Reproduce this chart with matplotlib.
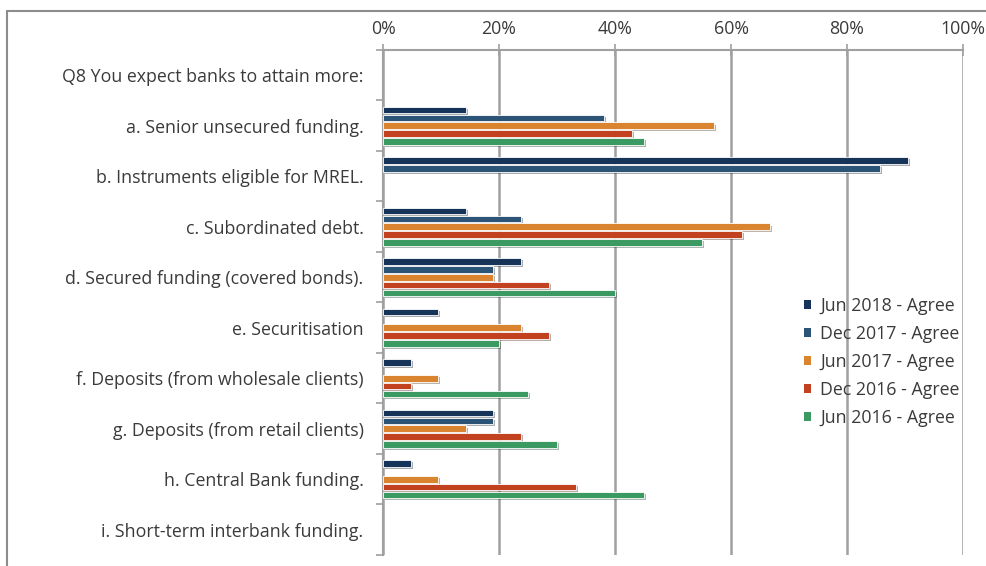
import numpy as np
import matplotlib
matplotlib.use("Agg")
import matplotlib.pyplot as plt
import matplotlib.patheffects as pe
from matplotlib.patches import Rectangle
from matplotlib.ticker import FixedLocator, PercentFormatter

# ==========================================
# DATA
# ==========================================

categories = [
    "Q8 You expect banks to attain more:",
    "a. Senior unsecured funding.",
    "b. Instruments eligible for MREL.",
    "c. Subordinated debt.",
    "d. Secured funding (covered bonds).",
    "e. Securitisation",
    "f. Deposits (from wholesale clients)",
    "g. Deposits (from retail clients)",
    "h. Central Bank funding.",
    "i. Short-term interbank funding.",
]

series_names = [
    "Jun 2018 - Agree",
    "Dec 2017 - Agree",
    "Jun 2017 - Agree",
    "Dec 2016 - Agree",
    "Jun 2016 - Agree",
]

# values in %, header row has no bars
jun_2018 = [0, 14.3, 90.5, 14.3, 23.8, 9.5, 4.8, 19.0, 4.8, 0]
dec_2017 = [0, 38.1, 85.7, 23.8, 19.0, 0, 0, 19.0, 0, 0]
jun_2017 = [0, 57.1, 0, 66.7, 19.0, 23.8, 9.5, 14.3, 9.5, 0]
dec_2016 = [0, 42.9, 0, 61.9, 28.6, 28.6, 4.8, 23.8, 33.3, 0]
jun_2016 = [0, 45.0, 0, 55.0, 40.0, 20.0, 25.0, 30.0, 45.0, 0]

series_values = [jun_2018, dec_2017, jun_2017, dec_2016, jun_2016]
colors = ["#16345A", "#2B5477", "#DA8430", "#C2421F", "#3A9A62"]

# ==========================================
# FIGURE
# ==========================================

plt.rcParams["font.family"] = ["Open Sans", "DejaVu Sans"]
text_color = "#3A3A3A"
grid_color = "#A0A0A0"
fsize = 12.8

fig = plt.figure(figsize=(9.86, 5.66), dpi=100)
ax = fig.add_axes([383 / 986, 1 - 555 / 566, 580 / 986, 505 / 566])

y = np.arange(len(categories))
step = 0.157
bar_h = 0.13
shadow = [pe.SimplePatchShadow(offset=(1.5, -1.5), alpha=0.35), pe.Normal()]

for i, (name, vals, col) in enumerate(zip(series_names, series_values, colors)):
    vals = np.array(vals)
    keep = vals > 0
    offs = (i - 2) * step
    ax.barh(y[keep] + offs, vals[keep], height=bar_h, color=col,
            edgecolor="white", linewidth=0.6, label=name,
            path_effects=shadow, zorder=3)

ax.set_xlim(0, 100)
ax.set_ylim(len(categories) - 0.5, -0.5)

# x axis on top
ax.xaxis.tick_top()
ax.set_xticks([0, 20, 40, 60, 80, 100])
ax.xaxis.set_major_formatter(PercentFormatter(decimals=0))
ax.tick_params(axis="x", direction="inout", length=9, width=1.2,
               color=grid_color, labelsize=fsize, labelcolor=text_color, pad=4)
ax.grid(axis="x", color=grid_color, linewidth=1.8, zorder=0)

# y axis: ticks between categories, labels at centres
ax.yaxis.set_major_locator(FixedLocator(np.arange(-0.5, len(categories), 1)))
ax.yaxis.set_minor_locator(FixedLocator(y))
ax.set_yticklabels([], minor=False)
ax.set_yticklabels(categories, minor=True)
ax.tick_params(axis="y", which="major", direction="out", length=5, width=1.2,
               color=grid_color)
ax.tick_params(axis="y", which="minor", length=0, labelsize=fsize,
               labelcolor=text_color, pad=14)

for side in ["right", "bottom"]:
    ax.spines[side].set_visible(False)
for side in ["top", "left"]:
    ax.spines[side].set_color(grid_color)
    ax.spines[side].set_linewidth(1.5)

leg = ax.legend(loc="upper left", bbox_to_anchor=(0.714, 0.525), frameon=False,
                fontsize=fsize, handlelength=0.4, handleheight=0.4,
                handletextpad=0.5, labelspacing=0.56, borderaxespad=0)
for t in leg.get_texts():
    t.set_color(text_color)
for h in leg.legend_handles:
    h.set_path_effects([])
    h.set_edgecolor("none")

# outer frame of the original chart (cropped on right and bottom)
fig.add_artist(Rectangle((7 / 986, -0.1), 1.2, 1 - 11 / 566 + 0.1,
                         transform=fig.transFigure, fill=False,
                         edgecolor="#8C8C8C", linewidth=1.5))

plt.savefig("out.png", dpi=100)
plt.close()
